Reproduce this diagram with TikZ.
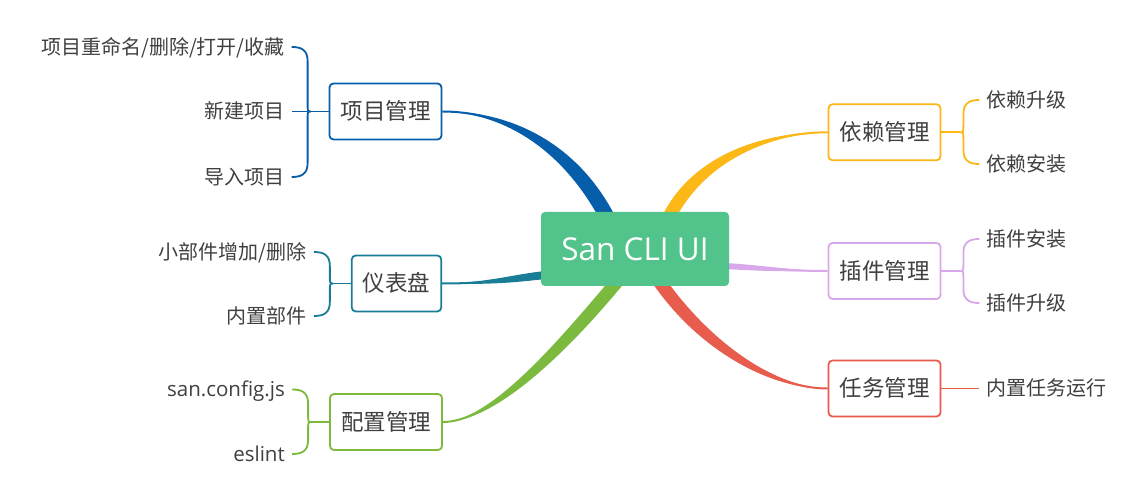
\documentclass[tikz,border=0pt]{standalone}
\usepackage{fontspec}
\setmainfont{Open Sans}
\newfontfamily\cjk{Noto Sans CJK SC}
\usetikzlibrary{calc,backgrounds}
\definecolor{cblue}{HTML}{065EAA}
\definecolor{cteal}{HTML}{1A7D97}
\definecolor{cgreen}{HTML}{7CBA3F}
\definecolor{cyellow}{HTML}{FBB817}
\definecolor{cpurple}{HTML}{D8A8EA}
\definecolor{cred}{HTML}{E75C4C}
\definecolor{ccenter}{HTML}{52C48B}
\definecolor{txt}{HTML}{404040}
% tapered main branch: #1 colour, #2 thin end, #3 ctrl1, #4 ctrl2, #5 thick end, #6 half width
\newcommand\branchtaper[6]{%
  \coordinate (tB) at (#2);
  \coordinate (tC1) at (#3);
  \coordinate (tC2) at (#4);
  \coordinate (tA) at (#5);
  \coordinate (tAa) at ($(tA)!#6!90:(tC2)$);
  \coordinate (tAb) at ($(tA)!#6!-90:(tC2)$);
  \coordinate (tE) at ($(tA)!-25pt!(tC2)$);
  \fill[#1] (tB) .. controls ($(tC1)+0.3*(tAa)-0.3*(tA)$) and ($(tC2)+(tAa)-(tA)$) .. (tAa)
    -- ($(tE)+(tAa)-(tA)$) -- ($(tE)+(tAb)-(tA)$) -- (tAb)
    .. controls ($(tC2)+(tAb)-(tA)$) and ($(tC1)+0.3*(tAb)-0.3*(tA)$) .. (tB) -- cycle;
  \draw[#1, line width=2pt] (tB) .. controls (tC1) and (tC2) .. (tA);
}
% brace arm: #1 style, #2 junction, #3 child node, #4 vertical sign, #5 horizontal sign
\newcommand\bracearm[5]{%
  \path (#2 |- #3) coordinate (bT);
  \coordinate (bE) at ($(bT)+({19*(#5)},0)$);
  \draw[#1] (#2) .. controls ($(#2)+({3*(#5)},0)$) .. ($(#2)+({3*(#5)},{9*(#4)})$)
    -- ($(bE)+({-16*(#5)},{-14*(#4)})$)
    .. controls ($(bE)+({-16*(#5)},{-3*(#4)})$) and ($(bE)+({-10*(#5)},0)$) .. (bE);
}
\begin{document}
\begin{tikzpicture}[x=1pt,y=-1pt,
  box/.style={draw, line width=1.8pt, rounded corners=4pt, fill=white,
    minimum height=56pt, inner xsep=11pt, text=txt,
    font=\cjk\fontsize{22.5}{27}\selectfont, text height=19.5pt, text depth=3pt},
  centerbox/.style={fill=ccenter, rounded corners=4pt, minimum width=188pt,
    minimum height=74pt, text=white, font=\fontsize{31.5}{38}\selectfont,
    text height=22.5pt, text depth=0pt},
  leaf/.style={inner sep=0pt, text=txt, font=\cjk\fontsize{20}{24}\selectfont,
    text height=17.3pt, text depth=2.7pt},
  leaflat/.style={leaf, font=\fontsize{20.5}{24}\selectfont},
  arm/.style={line width=1.8pt}]

\useasboundingbox (0,0) rectangle (1144,502);

% nodes
\node[centerbox] (c) at (635,249) {San CLI UI};
\node[box, draw=cblue] (pm) at (385.5,111.5) {项目管理};
\node[box, draw=cteal] (db) at (396.5,283.5) {仪表盘};
\node[box, draw=cgreen] (cf) at (386,422) {配置管理};
\node[box, draw=cyellow] (dep) at (884.5,132.3) {依赖管理};
\node[box, draw=cpurple] (plg) at (884.5,271) {插件管理};
\node[box, draw=cred] (task) at (884.5,388.5) {任务管理};

\node[leaf, anchor=east] (pm1) at (285,47) {项目重命名/删除/打开/收藏};
\node[leaf, anchor=east] (pm2) at (285,111.5) {新建项目};
\node[leaf, anchor=east] (pm3) at (285,177) {导入项目};
\node[leaf, anchor=east] (db1) at (306.5,252) {小部件增加/删除};
\node[leaf, anchor=east] (db2) at (306.5,316) {内置部件};
\node[leaflat, anchor=east] (cf1) at (285,389.5) {san.config.js};
\node[leaflat, anchor=east] (cf2) at (285,454) {eslint};
\node[leaf, anchor=west] (dep1) at (986,100) {依赖升级};
\node[leaf, anchor=west] (dep2) at (986,164) {依赖安装};
\node[leaf, anchor=west] (plg1) at (986,239) {插件安装};
\node[leaf, anchor=west] (plg2) at (986,303) {插件升级};
\node[leaf, anchor=west] (task1) at (986,388.5) {内置任务运行};

% main branches behind the nodes
\begin{pgfonlayer}{background}
\fill[white] (0,0) rectangle (1144,502);
\branchtaper{cblue}{pm.east}{500,111.5}{565,140}{606,215}{7.5pt}
\branchtaper{cyellow}{dep.west}{780,132.3}{705,150}{670,215}{6.5pt}
\branchtaper{cpurple}{plg.west}{790,271}{760,268}{725,266}{3pt}
\branchtaper{cred}{task.west}{775,388.5}{710,350}{664,288}{6.5pt}
\branchtaper{cgreen}{cf.east}{490,422}{555,355}{610,290}{6.5pt}
\branchtaper{cteal}{db.east}{490,283.5}{510,279}{545,275}{4pt}
\end{pgfonlayer}

% braces
\coordinate (pmJ) at ($(pm.west)+(-18,0)$);
\draw[arm, cblue] (pm.west) -- ($(pm2.east)+(7,0)$);
\bracearm{arm, cblue}{pmJ}{pm1}{-1}{-1}
\bracearm{arm, cblue}{pmJ}{pm3}{1}{-1}

\coordinate (dbJ) at ($(db.west)+(-18,0)$);
\draw[arm, cteal] (db.west) -- (dbJ);
\bracearm{arm, cteal}{dbJ}{db1}{-1}{-1}
\bracearm{arm, cteal}{dbJ}{db2}{1}{-1}

\coordinate (cfJ) at ($(cf.west)+(-18,0)$);
\draw[arm, cgreen] (cf.west) -- (cfJ);
\bracearm{arm, cgreen}{cfJ}{cf1}{-1}{-1}
\bracearm{arm, cgreen}{cfJ}{cf2}{1}{-1}

\coordinate (depJ) at ($(dep.east)+(19,0)$);
\draw[arm, cyellow] (dep.east) -- (depJ);
\bracearm{arm, cyellow}{depJ}{dep1}{-1}{1}
\bracearm{arm, cyellow}{depJ}{dep2}{1}{1}

\coordinate (plgJ) at ($(plg.east)+(19,0)$);
\draw[arm, cpurple] (plg.east) -- (plgJ);
\bracearm{arm, cpurple}{plgJ}{plg1}{-1}{1}
\bracearm{arm, cpurple}{plgJ}{plg2}{1}{1}

\draw[arm, cred] (task.east) -- ($(task1.west)+(-7,0)$);
\end{tikzpicture}
\end{document}
